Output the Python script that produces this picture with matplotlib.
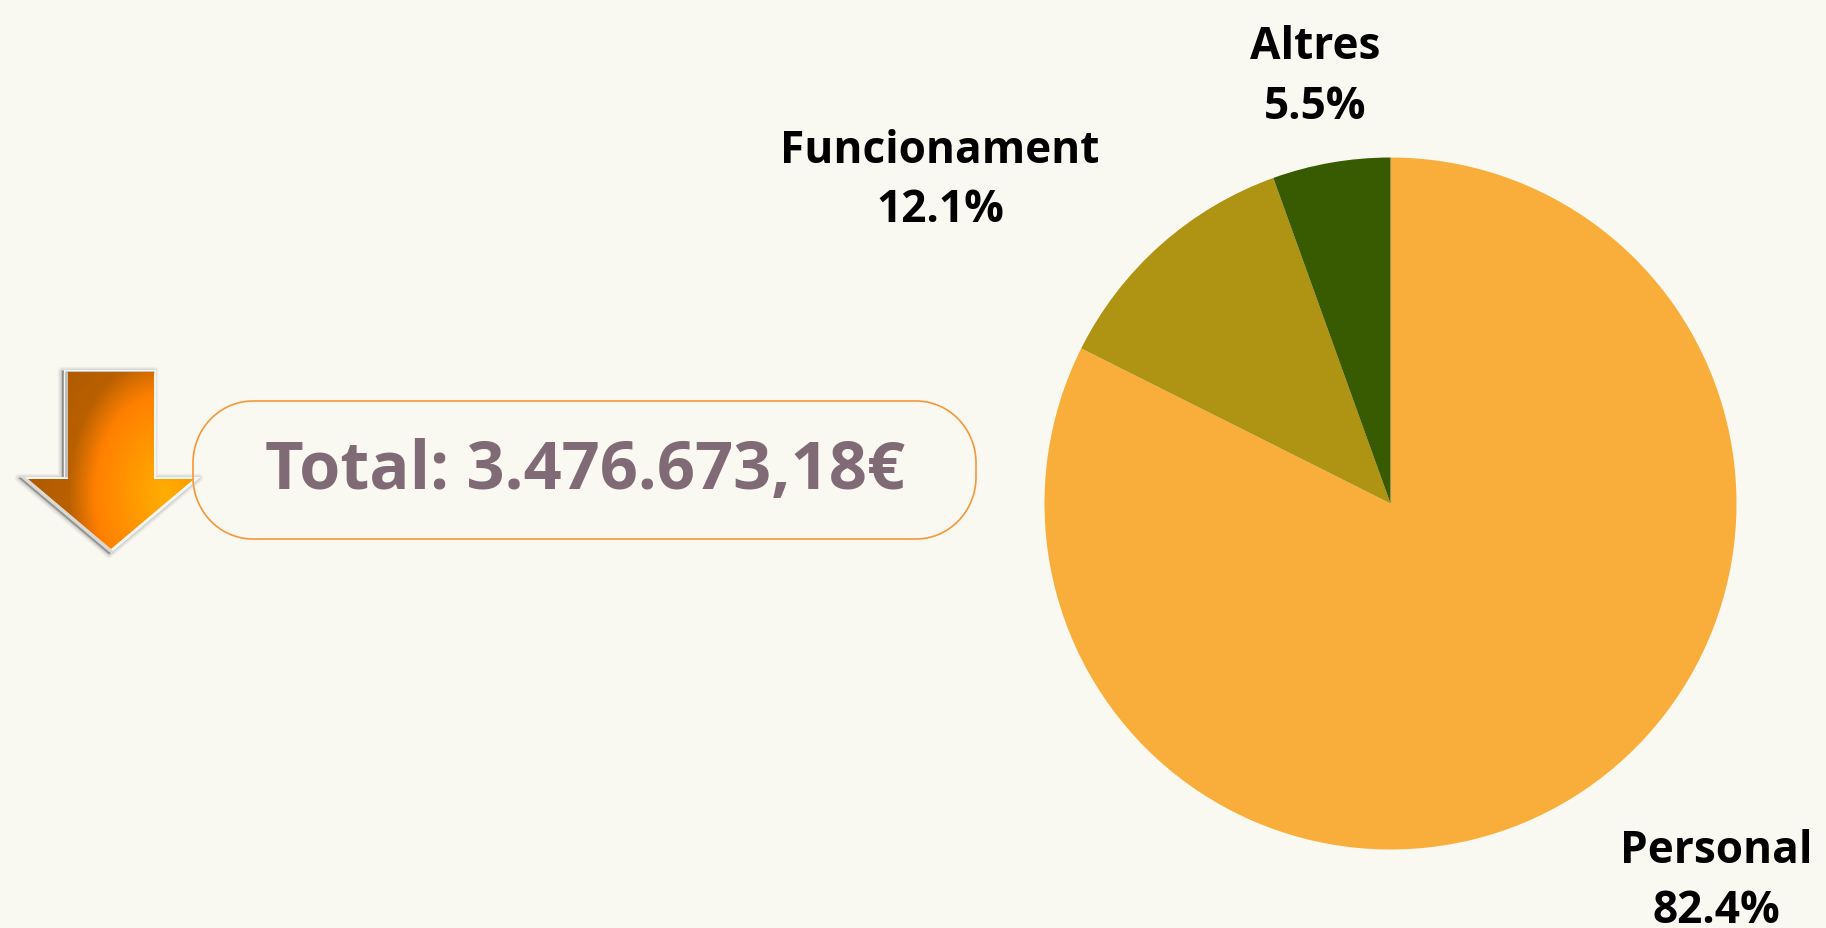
import numpy as np
import matplotlib
matplotlib.use("Agg")
import matplotlib.pyplot as plt
from matplotlib.colors import LinearSegmentedColormap
from matplotlib.patches import Polygon

W, H = 1826, 929
BG = "#F9F8F1"

categories = ["Personal", "Funcionament", "Altres"]
values = [82.4, 12.1, 5.5]
colors = ["#F9AE3B", "#AF9312", "#385A00"]
total_text = "Total: 3.476.673,18€"

plt.rcParams["font.family"] = ["Open Sans", "DejaVu Sans"]

fig = plt.figure(figsize=(W / 100, H / 100), dpi=100, facecolor=BG)

# pie goes in its own axes, placed by pixels
cx, cy, r = 1390.5, 504.5, 346
pie_ax = fig.add_axes([(cx - r) / W, 1 - (cy + r) / H, 2 * r / W, 2 * r / H])
pie_ax.pie(values, colors=colors, startangle=90, counterclock=False, radius=1)
pie_ax.set_xlim(-1, 1)
pie_ax.set_ylim(-1, 1)

# overlay in pixel coordinates, y going down
ax = fig.add_axes([0, 0, 1, 1], facecolor="none")
ax.set_xlim(0, W)
ax.set_ylim(H, 0)
ax.axis("off")

label_pos = [(1716, 881.5), (940, 181), (1315, 77.5)]
for name, val, (x, y) in zip(categories, values, label_pos):
    ax.text(x, y, f"{name}\n{val}%", ha="center", va="center", fontsize=31.8,
            fontweight="bold", color="black", linespacing=1.42, clip_on=False)

# arrow, soft shadow first
outer = [(64, 371), (156, 371), (156, 478), (201, 478), (111, 554), (21, 478), (64, 478)]
inner = [(68, 373), (154, 373), (154, 480), (194, 480), (111, 550), (28, 480), (68, 480)]
shadow = [(x - 2, y + 1) for x, y in outer]
for lw, alpha in [(6, 0.05), (4, 0.08), (2, 0.12), (0.5, 0.2)]:
    ax.add_patch(Polygon(shadow, closed=True, fc="#444444", ec="#444444",
                         lw=lw, alpha=alpha, joinstyle="round"))
ax.add_patch(Polygon(outer, closed=True, fc="#F6F6F2", ec="none"))
ax.plot([66, 66, 154], [478, 373, 373], color="#BDBDB9", lw=2, solid_capstyle="butt")
ax.plot([24, 111], [479, 552], color="#D8D8D4", lw=2)

# gradient spreads out from the lower right of the arrow
cmap = LinearSegmentedColormap.from_list(
    "arrow", [(0, "#FFAE00"), (0.2, "#FF9C00"), (0.5, "#FF8000"), (0.69, "#B96000"), (1, "#AE5A00")])
gx, gy = np.meshgrid(np.linspace(28, 194, 200), np.linspace(373, 550, 200))
dist = np.hypot(gx - 165, (gy - 495) / 1.44)
im = ax.imshow(dist, extent=(28, 194, 550, 373), cmap=cmap, vmin=0, vmax=140, aspect="auto", zorder=3)
im.set_clip_path(Polygon(inner, closed=True, transform=ax.transData))
ax.set_xlim(0, W)
ax.set_ylim(H, 0)

# rounded total box with elliptical corners, it sits over the arrow tip
x0, x1, y0, y1 = 193, 976, 402, 540
rx, ry = 60, 62
t = np.linspace(0, np.pi / 2, 40)
box_x = np.r_[x1 - rx + rx * np.cos(t), x0 + rx - rx * np.sin(t), x0 + rx - rx * np.cos(t), x1 - rx + rx * np.sin(t)]
box_y = np.r_[y0 + ry - ry * np.sin(t), y0 + ry - ry * np.cos(t), y1 - ry + ry * np.sin(t), y1 - ry + ry * np.cos(t)]
ax.add_patch(Polygon(np.c_[box_x, box_y], closed=True, fc="none", ec="#F6983A", lw=1.2, zorder=4))
ax.text(585, 471, total_text, ha="center", va="center", fontsize=48.1,
        fontweight="bold", color="#806A75", zorder=5)

fig.savefig("out.png", dpi=100, facecolor=BG)
